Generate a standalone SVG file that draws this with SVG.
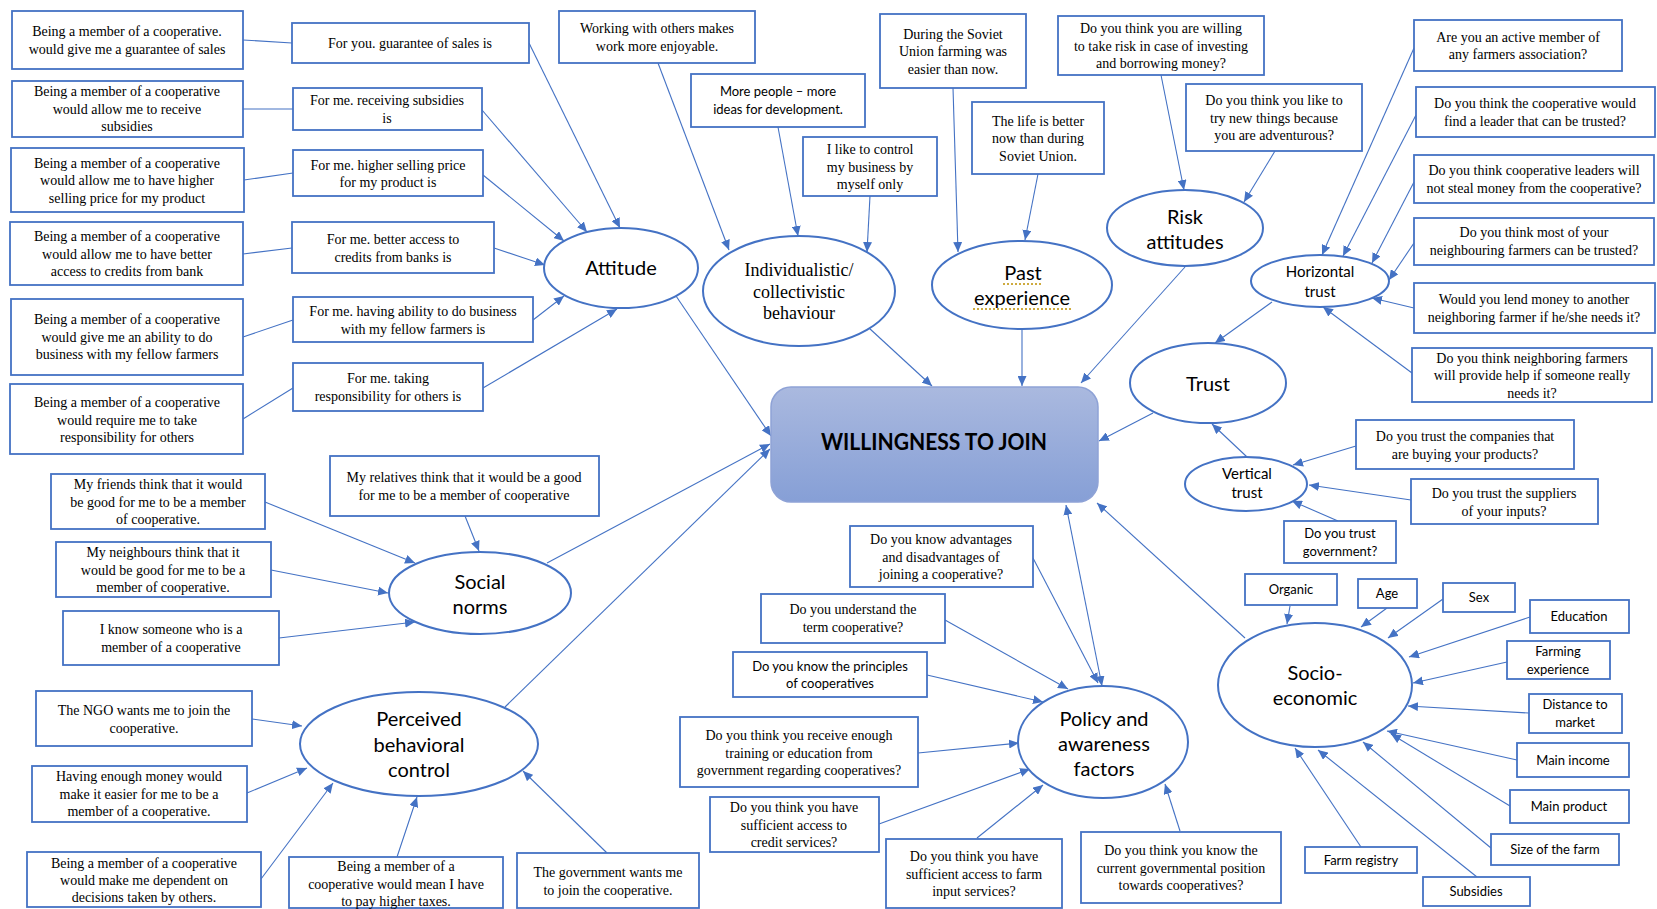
<svg xmlns="http://www.w3.org/2000/svg" width="1657" height="909" viewBox="0 0 1657 909">
<defs>
<style>
.box{fill:#fff;stroke:#4472c4;stroke-width:1.8}
.ell{fill:#fff;stroke:#4472c4;stroke-width:2}
.c{stroke:#4472c4;stroke-width:1.1;fill:none;marker-end:url(#ah)}
.p{stroke:#4472c4;stroke-width:1.1;fill:none}
.t{font-family:"Liberation Serif","Times New Roman",serif;font-size:14px;fill:#000;text-anchor:middle}
.s{font-family:Lato,"Liberation Sans",sans-serif;font-size:13px;fill:#000;text-anchor:middle}
.e{font-family:Lato,"Liberation Sans",sans-serif;font-size:20px;fill:#000;text-anchor:middle}
.e15{font-family:Lato,"Liberation Sans",sans-serif;font-size:15px;fill:#000;text-anchor:middle}
.ser{font-family:"Liberation Serif","Times New Roman",serif;font-size:18px;fill:#000;text-anchor:middle}
.dot{stroke:#bf9000;stroke-width:1.6;stroke-dasharray:2 2;fill:none}
</style>
<marker id="ah" viewBox="0 0 10 9" refX="10" refY="4.5" markerWidth="10" markerHeight="9" markerUnits="userSpaceOnUse" orient="auto-start-reverse"><path d="M0,0 L10,4.5 L0,9 z" fill="#4472c4"/></marker>
<linearGradient id="wg" x1="0" y1="0" x2="0" y2="1"><stop offset="0" stop-color="#aab9df"/><stop offset="1" stop-color="#869fd6"/></linearGradient>
</defs>
<rect width="1657" height="909" fill="#fff"/>

<g id="connectors">
<!-- attitude inputs -->
<path class="p" d="M243,40 L292,43"/>
<path class="p" d="M243,109 L293,109"/>
<path class="p" d="M244,180 L293,173"/>
<path class="p" d="M243,254 L292,248"/>
<path class="p" d="M243,337 L293,320"/>
<path class="p" d="M243,419 L293,388"/>
<path class="c" d="M529,43 L620,228"/>
<path class="c" d="M482,110 L587,232"/>
<path class="c" d="M483,175 L564,241"/>
<path class="c" d="M494,248 L545,265"/>
<path class="c" d="M533,320 L564,296"/>
<path class="c" d="M483,388 L617,309"/>
<!-- individualistic -->
<path class="c" d="M658,63 L729,250"/>
<path class="c" d="M778,127 L798,236"/>
<path class="c" d="M870,196 L867,252"/>
<!-- past -->
<path class="c" d="M953,88 L958,252"/>
<path class="c" d="M1038,174 L1025,240"/>
<!-- risk -->
<path class="c" d="M1161,75 L1184,190"/>
<path class="c" d="M1275,151 L1244,202"/>
<!-- horizontal trust -->
<path class="c" d="M1414,48 L1322,255"/>
<path class="c" d="M1416,115 L1343,256"/>
<path class="c" d="M1414,182 L1372,263"/>
<path class="c" d="M1414,243 L1389,280"/>
<path class="c" d="M1414,308 L1372,298"/>
<path class="c" d="M1412,373 L1323,307"/>
<path class="c" d="M1272,302 L1215,343"/>
<!-- vertical trust -->
<path class="c" d="M1356,446 L1293,465"/>
<path class="c" d="M1411,500 L1309,485"/>
<path class="c" d="M1338,521 L1292,501"/>
<path class="c" d="M1247,457 L1212,424"/>
<!-- social norms -->
<path class="c" d="M465,516 L479,551"/>
<path class="c" d="M265,502 L415,563"/>
<path class="c" d="M271,570 L388,593"/>
<path class="c" d="M279,638 L415,622"/>
<!-- PBC -->
<path class="c" d="M252,719 L302,726"/>
<path class="c" d="M247,793 L307,768"/>
<path class="c" d="M261,879 L333,783"/>
<path class="c" d="M397,857 L417,797"/>
<path class="c" d="M607,853 L523,771"/>
<!-- policy -->
<path class="c" d="M1033,558 L1098,683"/>
<path class="c" d="M945,620 L1068,689"/>
<path class="c" d="M927,675 L1043,702"/>
<path class="c" d="M918,753 L1019,743"/>
<path class="c" d="M879,824 L1030,769"/>
<path class="c" d="M977,838 L1043,785"/>
<path class="c" d="M1180,831 L1165,784"/>
<!-- socio-economic -->
<path class="c" d="M1290,606 L1287,624"/>
<path class="c" d="M1387,608 L1361,627"/>
<path class="c" d="M1443,599 L1388,638"/>
<path class="c" d="M1530,617 L1409,657"/>
<path class="c" d="M1507,662 L1413,683"/>
<path class="c" d="M1529,713 L1408,706"/>
<path class="c" d="M1517,760 L1387,731"/>
<path class="c" d="M1510,806 L1391,734"/>
<path class="c" d="M1491,848 L1363,742"/>
<path class="c" d="M1477,877 L1318,750"/>
<path class="c" d="M1361,847 L1295,748"/>
<!-- into WTJ -->
<path class="c" d="M676,296 L771,436"/>
<path class="c" d="M547,563 L770,444"/>
<path class="c" d="M505,707 L770,449"/>
<path class="c" d="M869,328 L932,386"/>
<path class="c" d="M1022,328 L1022,386"/>
<path class="c" d="M1185,267 L1081,383"/>
<path class="c" d="M1153,413 L1099,441"/>
<path class="c" d="M1245,638 L1097,503"/>
<path class="c" style="marker-start:url(#ah)" d="M1066,505 L1102,686"/>
</g>

<g id="willingness">
<rect x="771" y="387" width="327" height="115" rx="20" fill="url(#wg)" stroke="#8ea2d6" stroke-width="1.5"/>
<text x="934" y="450" font-family="Lato,'Liberation Sans',sans-serif" font-size="23" font-weight="bold" text-anchor="middle" textLength="226" lengthAdjust="spacingAndGlyphs">WILLINGNESS TO JOIN</text>
</g>

<g id="attitude"><ellipse class="ell" cx="621" cy="268" rx="77" ry="40"/><text class="e" x="621" y="275">Attitude</text></g>
<g id="individualistic"><ellipse class="ell" cx="799" cy="291" rx="96" ry="55"/><text class="ser" x="799" y="276">Individualistic/</text><text class="ser" x="799" y="298">collectivistic</text><text class="ser" x="799" y="319">behaviour</text></g>
<g id="past"><ellipse class="ell" cx="1022" cy="285" rx="90" ry="44"/><text class="e" x="1023" y="280">Past</text><text class="e" x="1022" y="305">experience</text><path class="dot" d="M1003,284 H1043"/><path class="dot" d="M973,309 H1071"/></g>
<g id="risk"><ellipse class="ell" cx="1185" cy="228" rx="78" ry="38"/><text class="e" x="1185" y="224">Risk</text><text class="e" x="1185" y="249">attitudes</text></g>
<g id="horizontal"><ellipse class="ell" cx="1320" cy="281" rx="69" ry="26"/><text class="e15" x="1320" y="277">Horizontal</text><text class="e15" x="1320" y="297">trust</text></g>
<g id="trust"><ellipse class="ell" cx="1208" cy="383" rx="78" ry="40"/><text class="e" x="1208" y="391">Trust</text></g>
<g id="vertical"><ellipse class="ell" cx="1246" cy="484" rx="61" ry="27"/><text class="e15" x="1247" y="479">Vertical</text><text class="e15" x="1247" y="498">trust</text></g>
<g id="social"><ellipse class="ell" cx="480" cy="593" rx="91" ry="41"/><text class="e" x="480" y="589">Social</text><text class="e" x="480" y="614">norms</text></g>
<g id="pbc"><ellipse class="ell" cx="419" cy="744" rx="119" ry="52"/><text class="e" x="419" y="726">Perceived</text><text class="e" x="419" y="752">behavioral</text><text class="e" x="419" y="777">control</text></g>
<g id="policy"><ellipse class="ell" cx="1103" cy="742" rx="85" ry="56"/><text class="e" x="1104" y="726">Policy and</text><text class="e" x="1104" y="751">awareness</text><text class="e" x="1104" y="776">factors</text></g>
<g id="socio"><ellipse class="ell" cx="1315" cy="685" rx="97" ry="62"/><text class="e" x="1315" y="680">Socio-</text><text class="e" x="1315" y="705">economic</text></g>

<g id="l1"><rect class="box" x="12" y="11" width="231" height="58"/><text class="t" x="127" y="36">Being a member of a cooperative.</text><text class="t" x="127" y="54">would give me a guarantee of sales</text></g>
<g id="l2"><rect class="box" x="12" y="81" width="231" height="56"/><text class="t" x="127" y="96">Being a member of a cooperative</text><text class="t" x="127" y="114">would allow me to receive</text><text class="t" x="127" y="131">subsidies</text></g>
<g id="l3"><rect class="box" x="11" y="148" width="233" height="64"/><text class="t" x="127" y="168">Being a member of a cooperative</text><text class="t" x="127" y="185">would allow me to have higher</text><text class="t" x="127" y="203">selling price for my product</text></g>
<g id="l4"><rect class="box" x="10" y="222" width="233" height="63"/><text class="t" x="127" y="241">Being a member of a cooperative</text><text class="t" x="127" y="259">would allow me to have better</text><text class="t" x="127" y="276">access to credits from bank</text></g>
<g id="l5"><rect class="box" x="11" y="299" width="232" height="76"/><text class="t" x="127" y="324">Being a member of a cooperative</text><text class="t" x="127" y="342">would give me an ability to do</text><text class="t" x="127" y="359">business with my fellow farmers</text></g>
<g id="l6"><rect class="box" x="10" y="384" width="233" height="70"/><text class="t" x="127" y="407">Being a member of a cooperative</text><text class="t" x="127" y="425">would require me to take</text><text class="t" x="127" y="442">responsibility for others</text></g>

<g id="m1"><rect class="box" x="292" y="23" width="237" height="40"/><text class="t" x="410" y="48">For you. guarantee of sales is</text></g>
<g id="m2"><rect class="box" x="293" y="88" width="189" height="42"/><text class="t" x="387" y="105">For me. receiving subsidies</text><text class="t" x="387" y="123">is</text></g>
<g id="m3"><rect class="box" x="293" y="150" width="190" height="46"/><text class="t" x="388" y="170">For me. higher selling price</text><text class="t" x="388" y="187">for my product is</text></g>
<g id="m4"><rect class="box" x="292" y="222" width="202" height="51"/><text class="t" x="393" y="244">For me. better access to</text><text class="t" x="393" y="262">credits from banks is</text></g>
<g id="m5"><rect class="box" x="293" y="297" width="240" height="45"/><text class="t" x="413" y="316">For me. having ability to do business</text><text class="t" x="413" y="334">with my fellow farmers is</text></g>
<g id="m6"><rect class="box" x="293" y="363" width="190" height="48"/><text class="t" x="388" y="383">For me. taking</text><text class="t" x="388" y="401">responsibility for others is</text></g>

<g id="working"><rect class="box" x="559" y="11" width="196" height="52"/><text class="t" x="657" y="33">Working with others makes</text><text class="t" x="657" y="51">work more enjoyable.</text></g>
<g id="morepeople"><rect class="box" x="691" y="74" width="174" height="53"/><text class="s" x="778" y="96">More people – more</text><text class="s" x="778" y="114">ideas for development.</text></g>
<g id="control"><rect class="box" x="803" y="137" width="134" height="59"/><text class="t" x="870" y="154">I like to control</text><text class="t" x="870" y="172">my business by</text><text class="t" x="870" y="189">myself only</text></g>
<g id="soviet"><rect class="box" x="880" y="14" width="146" height="74"/><text class="t" x="953" y="39">During the Soviet</text><text class="t" x="953" y="56">Union farming was</text><text class="t" x="953" y="74">easier than now.</text></g>
<g id="life"><rect class="box" x="972" y="102" width="132" height="72"/><text class="t" x="1038" y="126">The life is better</text><text class="t" x="1038" y="143">now than during</text><text class="t" x="1038" y="161">Soviet Union.</text></g>
<g id="willing"><rect class="box" x="1058" y="16" width="206" height="59"/><text class="t" x="1161" y="33">Do you think you are willing</text><text class="t" x="1161" y="51">to take risk in case of investing</text><text class="t" x="1161" y="68">and borrowing money?</text></g>
<g id="adventurous"><rect class="box" x="1186" y="84" width="176" height="67"/><text class="t" x="1274" y="105">Do you think you like to</text><text class="t" x="1274" y="123">try new things because</text><text class="t" x="1274" y="140">you are adventurous?</text></g>

<g id="active"><rect class="box" x="1414" y="20" width="208" height="51"/><text class="t" x="1518" y="42">Are you an active member of</text><text class="t" x="1518" y="59">any farmers association?</text></g>
<g id="leader"><rect class="box" x="1416" y="87" width="239" height="50"/><text class="t" x="1535" y="108">Do you think the cooperative would</text><text class="t" x="1535" y="126">find a leader that can be trusted?</text></g>
<g id="steal"><rect class="box" x="1414" y="155" width="240" height="48"/><text class="t" x="1534" y="175">Do you think cooperative leaders will</text><text class="t" x="1534" y="193">not steal money from the cooperative?</text></g>
<g id="most"><rect class="box" x="1414" y="218" width="240" height="47"/><text class="t" x="1534" y="237">Do you think most of your</text><text class="t" x="1534" y="255">neighbouring farmers can be trusted?</text></g>
<g id="lend"><rect class="box" x="1414" y="283" width="241" height="50"/><text class="t" x="1534" y="304">Would you lend money to another</text><text class="t" x="1534" y="322">neighboring farmer if he/she needs it?</text></g>
<g id="help"><rect class="box" x="1412" y="348" width="240" height="54"/><text class="t" x="1532" y="363">Do you think neighboring farmers</text><text class="t" x="1532" y="380">will provide help if someone really</text><text class="t" x="1532" y="398">needs it?</text></g>

<g id="companies"><rect class="box" x="1356" y="420" width="218" height="49"/><text class="t" x="1465" y="441">Do you trust the companies that</text><text class="t" x="1465" y="459">are buying your products?</text></g>
<g id="suppliers"><rect class="box" x="1411" y="479" width="187" height="45"/><text class="t" x="1504" y="498">Do you trust the suppliers</text><text class="t" x="1504" y="516">of your inputs?</text></g>
<g id="government"><rect class="box" x="1284" y="521" width="112" height="42"/><text class="s" x="1340" y="538">Do you trust</text><text class="s" x="1340" y="556">government?</text></g>

<g id="organic"><rect class="box" x="1245" y="574" width="92" height="31"/><text class="s" x="1291" y="594">Organic</text></g>
<g id="age"><rect class="box" x="1358" y="579" width="59" height="29"/><text class="s" x="1387" y="598">Age</text></g>
<g id="sex"><rect class="box" x="1443" y="583" width="72" height="29"/><text class="s" x="1479" y="602">Sex</text></g>
<g id="education"><rect class="box" x="1530" y="600" width="99" height="33"/><text class="s" x="1579" y="621">Education</text></g>
<g id="farming"><rect class="box" x="1507" y="641" width="103" height="38"/><text class="s" x="1558" y="656">Farming</text><text class="s" x="1558" y="674">experience</text></g>
<g id="distance"><rect class="box" x="1529" y="694" width="93" height="39"/><text class="s" x="1575" y="709">Distance to</text><text class="s" x="1575" y="727">market</text></g>
<g id="income"><rect class="box" x="1517" y="743" width="112" height="34"/><text class="s" x="1573" y="765">Main income</text></g>
<g id="product"><rect class="box" x="1510" y="790" width="119" height="33"/><text class="s" x="1569" y="811">Main product</text></g>
<g id="size"><rect class="box" x="1491" y="834" width="128" height="31"/><text class="s" x="1555" y="854">Size of the farm</text></g>
<g id="subsidies"><rect class="box" x="1423" y="877" width="107" height="29"/><text class="s" x="1476" y="896">Subsidies</text></g>
<g id="registry"><rect class="box" x="1305" y="847" width="112" height="26"/><text class="s" x="1361" y="865">Farm registry</text></g>

<g id="advantages"><rect class="box" x="850" y="526" width="183" height="61"/><text class="t" x="941" y="544">Do you know advantages</text><text class="t" x="941" y="562">and disadvantages of</text><text class="t" x="941" y="579">joining a cooperative?</text></g>
<g id="understand"><rect class="box" x="761" y="594" width="184" height="49"/><text class="t" x="853" y="614">Do you understand the</text><text class="t" x="853" y="632">term cooperative?</text></g>
<g id="principles"><rect class="box" x="733" y="652" width="194" height="45"/><text class="s" x="830" y="671">Do you know the principles</text><text class="s" x="830" y="688">of cooperatives</text></g>
<g id="training"><rect class="box" x="680" y="717" width="238" height="70"/><text class="t" x="799" y="740">Do you think you receive enough</text><text class="t" x="799" y="758">training or education from</text><text class="t" x="799" y="775">government regarding cooperatives?</text></g>
<g id="credit"><rect class="box" x="710" y="797" width="169" height="55"/><text class="t" x="794" y="812">Do you think you have</text><text class="t" x="794" y="830">sufficient access to</text><text class="t" x="794" y="847">credit services?</text></g>
<g id="farminput"><rect class="box" x="886" y="839" width="176" height="69"/><text class="t" x="974" y="861">Do you think you have</text><text class="t" x="974" y="879">sufficient access to farm</text><text class="t" x="974" y="896">input services?</text></g>
<g id="govposition"><rect class="box" x="1081" y="832" width="200" height="71"/><text class="t" x="1181" y="855">Do you think you know the</text><text class="t" x="1181" y="873">current governmental position</text><text class="t" x="1181" y="890">towards cooperatives?</text></g>

<g id="relatives"><rect class="box" x="330" y="456" width="269" height="60"/><text class="t" x="464" y="482">My relatives think that it would be a good</text><text class="t" x="464" y="500">for me to be a member of cooperative</text></g>
<g id="friends"><rect class="box" x="51" y="474" width="214" height="55"/><text class="t" x="158" y="489">My friends think that it would</text><text class="t" x="158" y="507">be good for me to be a member</text><text class="t" x="158" y="524">of cooperative.</text></g>
<g id="neighbours"><rect class="box" x="56" y="542" width="215" height="55"/><text class="t" x="163" y="557">My neighbours think that it</text><text class="t" x="163" y="575">would be good for me to be a</text><text class="t" x="163" y="592">member of cooperative.</text></g>
<g id="knowsomeone"><rect class="box" x="63" y="611" width="216" height="54"/><text class="t" x="171" y="634">I know someone who is a</text><text class="t" x="171" y="652">member of a cooperative</text></g>

<g id="ngo"><rect class="box" x="36" y="691" width="216" height="55"/><text class="t" x="144" y="715">The NGO wants me to join the</text><text class="t" x="144" y="733">cooperative.</text></g>
<g id="money"><rect class="box" x="32" y="766" width="215" height="56"/><text class="t" x="139" y="781">Having enough money would</text><text class="t" x="139" y="799">make it easier for me to be a</text><text class="t" x="139" y="816">member of a cooperative.</text></g>
<g id="dependent"><rect class="box" x="27" y="852" width="234" height="55"/><text class="t" x="144" y="868">Being a member of a cooperative</text><text class="t" x="144" y="885">would make me dependent on</text><text class="t" x="144" y="902">decisions taken by others.</text></g>
<g id="taxes"><rect class="box" x="289" y="857" width="214" height="51"/><text class="t" x="396" y="871">Being a member of a</text><text class="t" x="396" y="889">cooperative would mean I have</text><text class="t" x="396" y="906">to pay higher taxes.</text></g>
<g id="govwants"><rect class="box" x="517" y="853" width="182" height="55"/><text class="t" x="608" y="877">The government wants me</text><text class="t" x="608" y="895">to join the cooperative.</text></g>
</svg>
